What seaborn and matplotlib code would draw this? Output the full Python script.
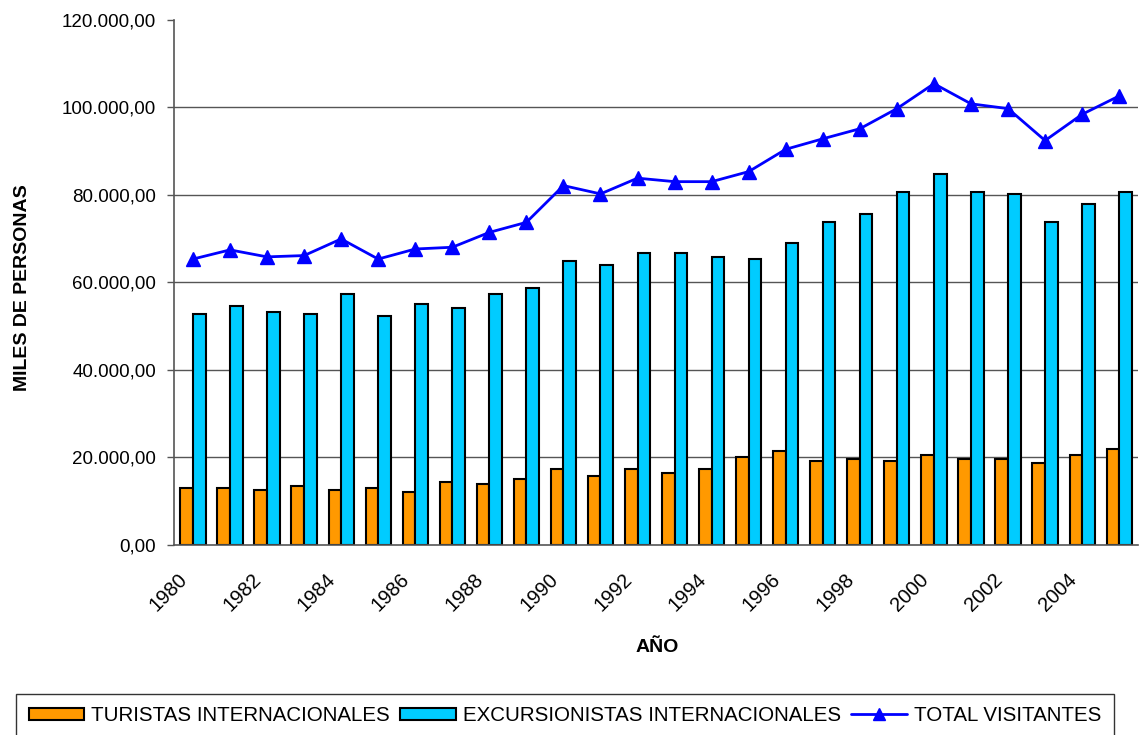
import numpy as np
import pandas as pd
import matplotlib.pyplot as plt
import seaborn as sns
from matplotlib.patches import Patch
from matplotlib.lines import Line2D
from matplotlib.ticker import FuncFormatter
from matplotlib.transforms import ScaledTranslation

anios = list(range(1980, 2006))
turistas = [13000, 13000, 12600, 13500, 12600, 13000, 12100, 14400, 13900, 14900,
            17200, 15800, 17200, 16300, 17200, 20000, 21400, 19100, 19600, 19100,
            20500, 19600, 19600, 18700, 20500, 21900]
excursionistas = [52700, 54600, 53200, 52700, 57400, 52300, 55000, 54100, 57400, 58700,
                  64800, 63900, 66700, 66700, 65800, 65300, 69000, 73700, 75600, 80600,
                  84800, 80600, 80200, 73700, 77900, 80600]
total = [65300, 67400, 65800, 66100, 69900, 65300, 67600, 68000, 71400, 73700,
         82100, 80200, 83800, 83000, 83000, 85300, 90400, 92800, 95100, 99700,
         105400, 100800, 99700, 92400, 98400, 102600]

series = ["TURISTAS INTERNACIONALES", "EXCURSIONISTAS INTERNACIONALES", "TOTAL VISITANTES"]
colores = ["#FF9900", "#00CCFF", "#0000FF"]

df = pd.DataFrame({
    "anio": [str(a) for a in anios] * 2,
    "valor": turistas + excursionistas,
    "serie": [series[0]] * len(anios) + [series[1]] * len(anios),
})

sns.set_style("white")
plt.rcParams["font.family"] = ["Liberation Sans", "DejaVu Sans"]
plt.rcParams.update({"text.color": "black", "axes.labelcolor": "black",
                     "xtick.color": "black", "ytick.color": "black"})

fig = plt.figure(figsize=(11.4, 7.35), dpi=100)
ax = fig.add_axes([0.153, 0.259, 0.845, 0.714])

sns.barplot(data=df, x="anio", y="valor", hue="serie", palette=colores[:2], saturation=1,
            width=0.68, edgecolor="black", linewidth=1.5, legend=False, ax=ax)
ax.plot(np.arange(len(anios)), total, color=colores[2], lw=2, marker="^", ms=10, zorder=5)

ax.set_xlim(-0.5, len(anios) - 0.5)
ax.set_ylim(0, 120000)
ax.set_yticks(np.arange(0, 120001, 20000))
ax.yaxis.set_major_formatter(FuncFormatter(
    lambda v, p: f"{v:,.2f}".replace(",", "X").replace(".", ",").replace("X", ".")))
for v in range(20000, 120000, 20000):
    ax.axhline(v, color="#555555", lw=1, zorder=0)

ax.set_xticks(np.arange(len(anios)))
ax.set_xticklabels([str(a) if a % 2 == 0 else "" for a in anios], rotation=45,
                   ha="right", rotation_mode="anchor")
ax.set_xticks(np.arange(-0.5, len(anios), 1), minor=True)
ax.tick_params(axis="x", which="major", length=0, labelsize=14.5, pad=18)
ax.tick_params(axis="x", which="minor", length=5, width=1, color="#555555", direction="out")
ax.tick_params(axis="y", length=5, width=1, color="#555555", direction="out",
               labelsize=13.5, pad=8, left=True)
desplazar = ScaledTranslation(-11 / 72, 0, fig.dpi_scale_trans)
for t in ax.get_xticklabels():
    t.set_transform(t.get_transform() + desplazar)

for s in ["top", "right"]:
    ax.spines[s].set_visible(False)
ax.spines["left"].set_color("#555555")
ax.spines["bottom"].set_color("#555555")
ax.spines["left"].set_linewidth(1.2)
ax.spines["bottom"].set_linewidth(1.2)

ax.set_xlabel("AÑO", fontsize=14, fontweight="bold")
ax.xaxis.set_label_coords(0.501, -0.18)
ax.set_ylabel("MILES DE PERSONAS", fontsize=14, fontweight="bold")
ax.yaxis.set_label_coords(-0.149, 0.49)

handles = [
    Patch(facecolor=colores[0], edgecolor="black", lw=1.5),
    Patch(facecolor=colores[1], edgecolor="black", lw=1.5),
    Line2D([0], [0], color=colores[2], lw=2, marker="^", ms=9),
]
leg = fig.legend(handles, series, loc="upper center", bbox_to_anchor=(0.4956, 0.056),
                 borderaxespad=0, ncol=3, frameon=True, fancybox=False, fontsize=14.8,
                 handlelength=2.7, handleheight=0.55, columnspacing=0.5,
                 handletextpad=0.35, borderpad=0.6)
leg.get_frame().set_edgecolor("black")
leg.get_frame().set_linewidth(1)

fig.savefig("out.png", dpi=100)
plt.close()
